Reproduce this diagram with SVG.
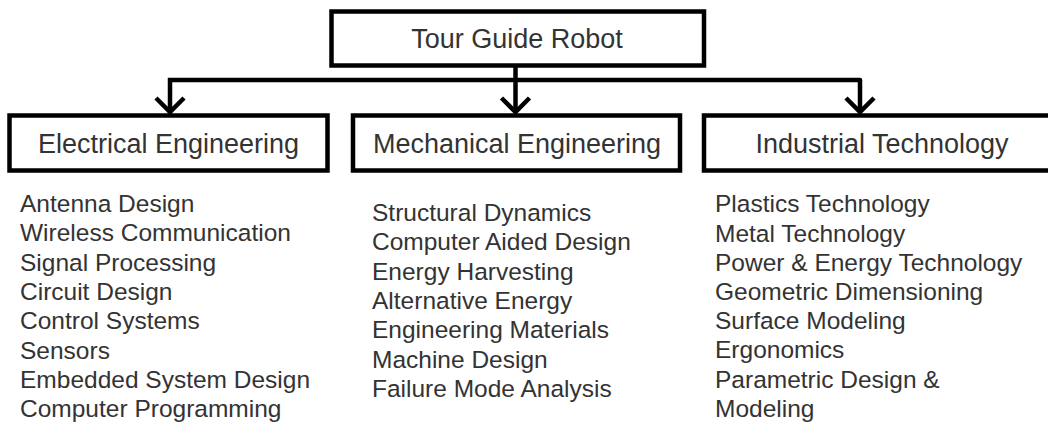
<svg xmlns="http://www.w3.org/2000/svg" width="1048" height="435" viewBox="0 0 1048 435">
  <style>
    .box { fill: #ffffff; stroke: #000000; stroke-width: 4.5; }
    .title { font-family: "Liberation Sans", Arial, sans-serif; font-size: 27px; fill: #333333; text-anchor: middle; }
    .item { font-family: "Liberation Sans", Arial, sans-serif; font-size: 24.5px; fill: #333333; }
    .wire { fill: none; stroke: #000000; stroke-width: 4.5; }
  </style>
  <defs>
    <marker id="arrow" markerUnits="userSpaceOnUse" markerWidth="40" markerHeight="40" viewBox="-20 -20 40 40" refX="0" refY="0" orient="auto">
      <path d="M-14,-14 L0,0 L-14,14" fill="none" stroke="#000000" stroke-width="4.5" stroke-linejoin="miter"/>
    </marker>
  </defs>
  <rect width="1048" height="435" fill="#ffffff"/>

  <!-- connectors -->
  <g id="connectors" class="wire">
    <path d="M515.5,66 V80"/>
    <path d="M860,80 H170 V112" marker-end="url(#arrow)" stroke-linecap="round"/>
    <path d="M515.5,80 V112" marker-end="url(#arrow)"/>
    <path d="M860,80 V112" marker-end="url(#arrow)"/>
  </g>

  <!-- root -->
  <g id="tour-guide-robot">
    <rect class="box" x="331.5" y="11.5" width="372.5" height="54"/>
    <text class="title" x="517" y="48">Tour Guide Robot</text>
  </g>

  <!-- branches -->
  <g id="electrical-engineering">
    <rect class="box" x="9.5" y="115.5" width="318" height="55"/>
    <text class="title" x="168.5" y="153">Electrical Engineering</text>
    <text class="item" x="20" y="212">
      <tspan x="20" y="212">Antenna Design</tspan>
      <tspan x="20" y="241.3">Wireless Communication</tspan>
      <tspan x="20" y="270.6">Signal Processing</tspan>
      <tspan x="20" y="299.9">Circuit Design</tspan>
      <tspan x="20" y="329.2">Control Systems</tspan>
      <tspan x="20" y="358.5">Sensors</tspan>
      <tspan x="20" y="387.8">Embedded System Design</tspan>
      <tspan x="20" y="417.1">Computer Programming</tspan>
    </text>
  </g>

  <g id="mechanical-engineering">
    <rect class="box" x="353" y="115.5" width="327" height="55"/>
    <text class="title" x="517" y="153">Mechanical Engineering</text>
    <text class="item" x="372" y="221">
      <tspan x="372" y="221">Structural Dynamics</tspan>
      <tspan x="372" y="250.3">Computer Aided Design</tspan>
      <tspan x="372" y="279.6">Energy Harvesting</tspan>
      <tspan x="372" y="308.9">Alternative Energy</tspan>
      <tspan x="372" y="338.2">Engineering Materials</tspan>
      <tspan x="372" y="367.5">Machine Design</tspan>
      <tspan x="372" y="396.8">Failure Mode Analysis</tspan>
    </text>
  </g>

  <g id="industrial-technology">
    <rect class="box" x="704" y="115.5" width="358" height="55"/>
    <text class="title" x="882" y="153">Industrial Technology</text>
    <text class="item" x="715" y="212">
      <tspan x="715" y="212.3">Plastics Technology</tspan>
      <tspan x="715" y="241.5">Metal Technology</tspan>
      <tspan x="715" y="270.7">Power &amp; Energy Technology</tspan>
      <tspan x="715" y="299.9">Geometric Dimensioning</tspan>
      <tspan x="715" y="329.1">Surface Modeling</tspan>
      <tspan x="715" y="358.3">Ergonomics</tspan>
      <tspan x="715" y="387.5">Parametric Design &amp;</tspan>
      <tspan x="715" y="416.7">Modeling</tspan>
    </text>
  </g>
</svg>
